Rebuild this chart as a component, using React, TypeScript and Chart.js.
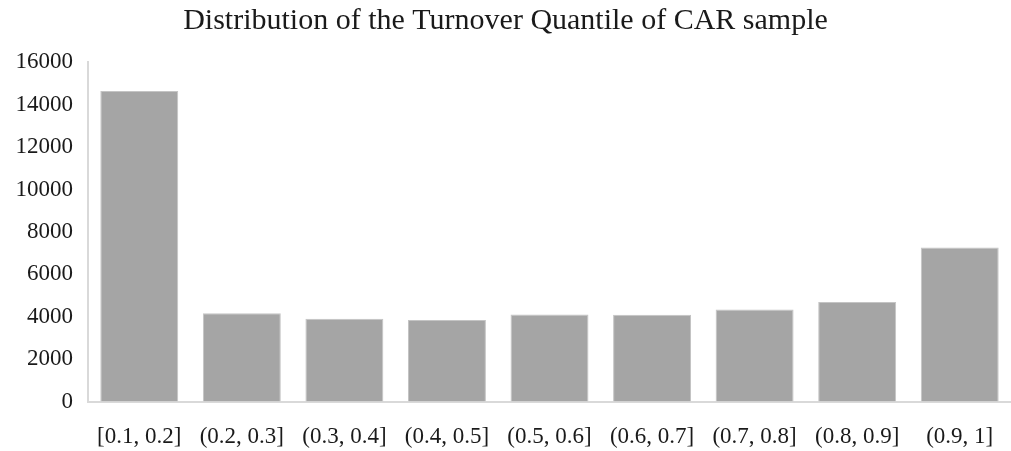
import React, { useEffect, useRef } from "react";
import { Chart, registerables } from "chart.js";

Chart.register(...registerables);

const TITLE = "Distribution of the Turnover Quantile of CAR sample";
const CATEGORIES = [
  "[0.1, 0.2]",
  "(0.2, 0.3]",
  "(0.3, 0.4]",
  "(0.4, 0.5]",
  "(0.5, 0.6]",
  "(0.6, 0.7]",
  "(0.7, 0.8]",
  "(0.8, 0.9]",
  "(0.9, 1]",
];
const COUNTS = [14650, 4160, 3900, 3840, 4110, 4090, 4345, 4700, 7270];
const Y_MAX = 16000;
const Y_STEP = 2000;

export default function App() {
  const ref = useRef<HTMLCanvasElement | null>(null);

  useEffect(() => {
    document.body.style.margin = "0";
    const canvas = ref.current;
    if (!canvas) return;
    const font = "'Liberation Serif', 'Times New Roman', serif";
    const chart = new Chart(canvas, {
      type: "bar",
      data: {
        labels: CATEGORIES,
        datasets: [
          {
            data: COUNTS,
            backgroundColor: "#a5a5a5",
            borderColor: "#c4c4c4",
            borderWidth: 1,
            categoryPercentage: 0.8,
            barPercentage: 0.95,
          },
        ],
      },
      options: {
        animation: false,
        responsive: false,
        maintainAspectRatio: false,
        layout: { padding: { left: 0, right: 0, top: 0, bottom: 0 } },
        plugins: {
          legend: { display: false },
          tooltip: { enabled: false },
          title: {
            display: true,
            text: TITLE,
            color: "#1a1a1a",
            font: { family: font, size: 30, weight: "normal" },
            padding: { top: 3, bottom: 23.4 },
          },
        },
        scales: {
          x: {
            grid: { display: false, drawTicks: false },
            border: { display: true, color: "#d9d9d9", width: 2 },
            ticks: {
              color: "#1a1a1a",
              font: { family: font, size: 23 },
              padding: 21.7,
              maxRotation: 0,
              autoSkip: false,
            },
            afterFit: (s: any) => {
              s.height = 49.5;
              s.paddingLeft = 0;
              s.paddingRight = 0;
            },
          },
          y: {
            min: 0,
            max: Y_MAX,
            grid: { display: false, drawTicks: false },
            border: { display: true, color: "#d9d9d9", width: 2 },
            ticks: {
              stepSize: Y_STEP,
              color: "#1a1a1a",
              font: { family: font, size: 23 },
              padding: 15,
              callback: (v: any) => String(v),
            },
            afterFit: (s: any) => {
              s.width = 88;
            },
          },
        },
      },
    });
    return () => chart.destroy();
  }, []);

  return (
    <div style={{ width: 1011, height: 451 }}>
      <canvas ref={ref} width={1011} height={451} style={{ display: "block" }} />
    </div>
  );
}
